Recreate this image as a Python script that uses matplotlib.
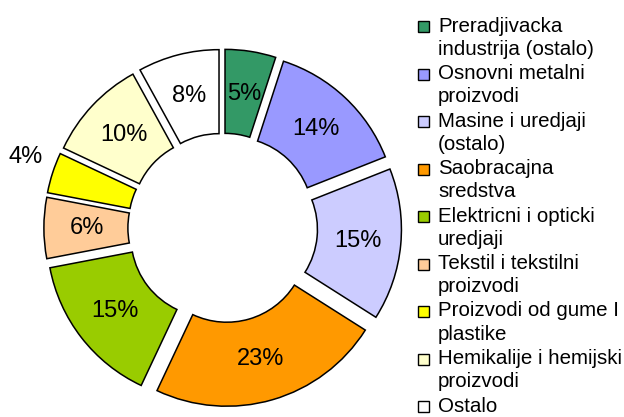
import matplotlib.pyplot as plt
from matplotlib.patches import Rectangle
import numpy as np

plt.rcParams['font.family'] = ['Liberation Sans', 'DejaVu Sans']

# podaci
categories = ['Preradjivacka\nindustrija (ostalo)', 'Osnovni metalni\nproizvodi',
              'Masine i uredjaji\n(ostalo)', 'Saobracajna\nsredstva',
              'Elektricni i opticki\nuredjaji', 'Tekstil i tekstilni\nproizvodi',
              'Proizvodi od gume I\nplastike', 'Hemikalije i hemijski\nproizvodi', 'Ostalo']
shares = [5, 14, 15, 23, 15, 6, 4, 10, 8]
colors = ['#339966', '#9999FF', '#CCCCFF', '#FF9900', '#99CC00',
          '#FFCC99', '#FFFF00', '#FFFFCC', '#FFFFFF']

W, H = 624, 417
fig = plt.figure(figsize=(W / 100, H / 100), dpi=100)
ax = fig.add_axes([0, 0, 1, 1])

# prsten (koordinate u pikselima)
R = 164
cx, cy = 222.7, H - 228
wedges, texts, autotexts = ax.pie(
    shares, colors=colors, startangle=90, counterclock=False,
    radius=R, center=(cx, cy), explode=[14.8] * len(shares),
    wedgeprops=dict(width=84, edgecolor='black', linewidth=1.1),
    autopct=lambda p: f'{p:.0f}%', pctdistance=0.74,
    textprops=dict(fontsize=17, color='black'))

# mali udeo - oznaka van prstena
small = shares.index(min(shares))
w = wedges[small]
tm = np.radians(0.5 * (w.theta1 + w.theta2) - 2)
autotexts[small].set_position((w.center[0] + 1.19 * R * np.cos(tm),
                               w.center[1] + 1.19 * R * np.sin(tm)))

ax.set_xlim(0, W)
ax.set_ylim(0, H)
ax.axis('off')

# legenda
y0 = H - 31.5
for i, (lab, col) in enumerate(zip(categories, colors)):
    yb = y0 - 47.5 * i
    ax.add_patch(Rectangle((418, yb - 0.5), 11, 11, fc=col, ec='black', lw=1.0))
    for j, line in enumerate(lab.split('\n')):
        ax.text(438, yb - 23.4 * j, line, fontsize=14.8, va='baseline', ha='left')

fig.savefig('out.png', dpi=100)
